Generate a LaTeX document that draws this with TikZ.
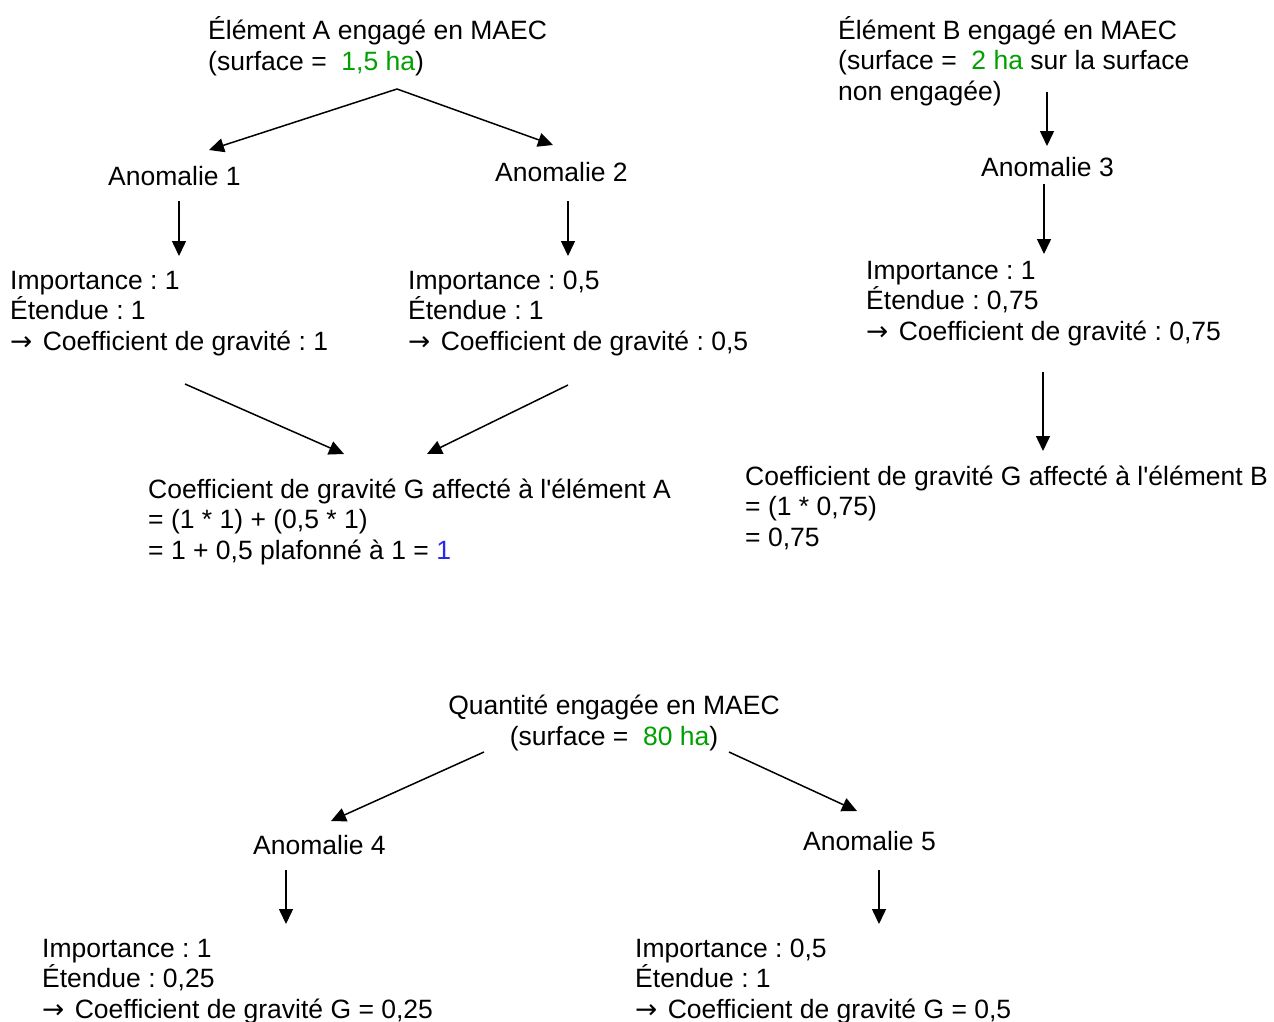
\documentclass[tikz,border=0pt]{standalone}
\usepackage{fontspec}
\setmainfont{Liberation Sans}[Ligatures=TeXOff]
\newfontfamily\arrfont{DejaVu Sans}
\usetikzlibrary{arrows.meta}
\definecolor{grn}{RGB}{0,160,0}
\definecolor{blu}{RGB}{40,40,235}
\newcommand{\rarr}{{\arrfont →}\hspace{3pt}}
\tikzset{
  txt/.style={inner sep=0pt, anchor=base west, align=left, font=\fontsize{26.5}{30.5}\selectfont\frenchspacing},
  ctxt/.style={inner sep=0pt, anchor=base, align=center, font=\fontsize{26.5}{30.5}\selectfont\frenchspacing},
  arr/.style={line width=1.5pt, -{Triangle[length=15pt,width=14pt]}}
}
\begin{document}
\begin{tikzpicture}[x=1pt,y=-1pt]
\useasboundingbox (0,0) rectangle (1274,1021);
% text blocks (anchored at baseline of last line)
\node[txt] (ea) at (208,70) {Élément A engagé en MAEC\\(surface = \ \textcolor{grn}{1,5 ha})};
\node[txt] (eb) at (838,100) {Élément B engagé en MAEC\\(surface = \ \textcolor{grn}{2 ha} sur la surface\\non engagée)};
\node[txt] (a1) at (108,185) {Anomalie 1};
\node[txt] (a2) at (495,181) {Anomalie 2};
\node[txt] (a3) at (981,176) {Anomalie 3};
\node[txt] (i1) at (10,350) {Importance : 1\\Étendue : 1\\\rarr{} Coefficient de gravité : 1};
\node[txt] (i2) at (408,350) {Importance : 0,5\\Étendue : 1\\\rarr{} Coefficient de gravité : 0,5};
\node[txt] (i3) at (866,340) {Importance : 1\\Étendue : 0,75\\\rarr{} Coefficient de gravité : 0,75};
\node[txt] (ga) at (148,559) {Coefficient de gravité G affecté à l'élément A\\= (1 * 1) + (0,5 * 1)\\= 1 + 0,5 plafonné à 1 = \textcolor{blu}{1}};
\node[txt] (gb) at (745,546) {Coefficient de gravité G affecté à l'élément B\\= (1 * 0,75)\\= 0,75};
\node[ctxt] (q) at (614,745) {Quantité engagée en MAEC\\(surface = \ \textcolor{grn}{80 ha})};
\node[txt] (a4) at (253,854) {Anomalie 4};
\node[txt] (a5) at (803,850) {Anomalie 5};
\node[txt] (i4) at (42,1018) {Importance : 1\\Étendue : 0,25\\\rarr{} Coefficient de gravité G = 0,25};
\node[txt] (i5) at (635,1018) {Importance : 0,5\\Étendue : 1\\\rarr{} Coefficient de gravité G = 0,5};
% connector end points
\coordinate (eaS) at (397,89);
\coordinate (a1N) at (209,150);
\coordinate (a2N) at (553,145);
\coordinate (a1S) at (179,201);
\coordinate (i1N) at (179,256);
\coordinate (a2S) at (568,201);
\coordinate (i2N) at (568,256);
\coordinate (ebS) at (1047,92);
\coordinate (a3N) at (1047,146);
\coordinate (a3S) at (1044,184);
\coordinate (i3N) at (1044,254);
\coordinate (i3S) at (1043,372);
\coordinate (gbN) at (1043,451);
\coordinate (i1S) at (185,384);
\coordinate (gaNL) at (344,454);
\coordinate (i2S) at (568,385);
\coordinate (gaNR) at (427,454);
\coordinate (qSL) at (484,752);
\coordinate (a4N) at (331,821);
\coordinate (qSR) at (729,752);
\coordinate (a5N) at (857,811);
\coordinate (a4S) at (286,870);
\coordinate (i4N) at (286,924);
\coordinate (a5S) at (879,870);
\coordinate (i5N) at (879,924);
% connectors
\draw[arr] (eaS) -- (a1N);
\draw[arr] (eaS) -- (a2N);
\draw[arr] (a1S) -- (i1N);
\draw[arr] (a2S) -- (i2N);
\draw[arr] (ebS) -- (a3N);
\draw[arr] (a3S) -- (i3N);
\draw[arr] (i3S) -- (gbN);
\draw[arr] (i1S) -- (gaNL);
\draw[arr] (i2S) -- (gaNR);
\draw[arr] (qSL) -- (a4N);
\draw[arr] (qSR) -- (a5N);
\draw[arr] (a4S) -- (i4N);
\draw[arr] (a5S) -- (i5N);
\end{tikzpicture}
\end{document}
